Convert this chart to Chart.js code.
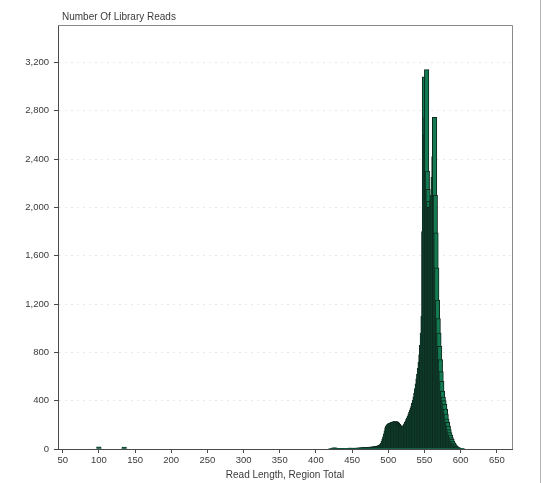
<!DOCTYPE html>
<html>
<head>
<meta charset="utf-8">
<title>Number Of Library Reads</title>
<script src="https://cdn.jsdelivr.net/npm/chart.js@4.4.0/dist/chart.umd.min.js"></script>
<style>
  html, body { margin: 0; padding: 0; background: #fff; }
  #wrap { position: relative; width: 545px; height: 483px; }
</style>
</head>
<body>
<div id="wrap"><canvas id="chart" width="545" height="483"></canvas></div>
<script>
// Read length (bp) of each histogram bin that has reads
const readLengths = [
  99, 100, 101, 134, 135, 136,
  420, 421, 422, 423, 424, 425, 426, 427, 428, 429,
  430, 431, 432, 433, 434, 435, 436, 437, 438, 439,
  440, 441, 442, 443, 444, 445, 446, 447, 448, 449,
  450, 451, 452, 453, 454, 455, 456, 457, 458, 459,
  460, 461, 462, 463, 464, 465, 466, 467, 468, 469,
  470, 471, 472, 473, 474, 475, 476, 477, 478, 479,
  480, 481, 482, 483, 484, 485, 486, 487, 488, 489,
  490, 491, 492, 493, 494, 495, 496, 497, 498, 499,
  500, 501, 502, 503, 504, 505, 506, 507, 508, 509,
  510, 511, 512, 513, 514, 515, 516, 517, 518, 519,
  520, 521, 522, 523, 524, 525, 526, 527, 528, 529,
  530, 531, 532, 533, 534, 535, 536, 537, 538, 539,
  540, 541, 542, 543, 544, 545, 546, 547, 548, 549,
  550, 551, 552, 553, 554, 555, 556, 557, 558, 559,
  560, 561, 562, 563, 564, 565, 566, 567, 568, 569,
  570, 571, 572, 573, 574, 575, 576, 577, 578, 579,
  580, 581, 582, 583, 584, 585, 586, 587, 588, 589,
  590, 591, 592, 593, 594, 595, 596, 597, 598, 599,
  600, 601, 602, 603
];

// Number of library reads per read length
const readCounts = [
  10, 18, 8, 8, 15, 6,
  3, 4, 5, 6, 8, 10, 9, 7, 5, 4,
  3, 3, 2, 2, 3, 3, 2, 2, 3, 3,
  3, 4, 4, 5, 5, 6, 6, 7, 7, 8,
  5, 5, 6, 6, 6, 7, 7, 7, 8, 8,
  8, 9, 9, 10, 10, 10, 11, 11, 12, 12,
  12, 13, 13, 14, 14, 15, 15, 16, 16, 17,
  17, 18, 19, 20, 21, 22, 24, 26, 28, 31,
  35, 40, 50, 65, 80, 100, 125, 150, 175, 190,
  200, 205, 210, 212, 215, 218, 220, 222, 225, 226,
  226, 224, 220, 212, 205, 198, 192, 188, 185, 184,
  184, 186, 190, 198, 208, 220, 232, 245, 258, 272,
  288, 305, 322, 340, 358, 380, 405, 430, 460, 500,
  540, 580, 620, 670, 720, 780, 860, 960, 1100, 1800,
  3080, 2600, 2750, 3140, 2300, 2150, 2050, 2000, 2000, 2000,
  2050, 2100, 2250, 2420, 2746, 2100, 1790, 1500, 1233, 1080,
  960, 850, 740, 640, 560, 480, 430, 400, 370, 330,
  290, 250, 220, 190, 160, 135, 115, 95, 80, 65,
  52, 42, 34, 27, 21, 16, 12, 9, 7, 5,
  4, 3, 2, 1
];

const xTickValues = [50, 100, 150, 200, 250, 300, 350, 400, 450, 500, 550, 600, 650];
const yTickValues = [0, 400, 800, 1200, 1600, 2000, 2400, 2800, 3200];

const textColor = '#3a3a3a';
const axisColor = '#4a4a4a';

// frame around the plot + chart title, drawn on top
const framePlugin = {
  id: 'frame',
  afterDraw(chart) {
    const { ctx, chartArea: a } = chart;
    ctx.save();
    ctx.strokeStyle = '#8a8a8a';
    ctx.lineWidth = 1;
    ctx.beginPath();
    ctx.moveTo(a.left, a.top + 0.5);
    ctx.lineTo(a.right + 0.5, a.top + 0.5);
    ctx.lineTo(a.right + 0.5, a.bottom);
    ctx.stroke();
    // panel edge on the right side
    ctx.strokeStyle = '#b5b5b5';
    ctx.beginPath();
    ctx.moveTo(540.5, 0);
    ctx.lineTo(540.5, 483);
    ctx.stroke();
    ctx.fillStyle = textColor;
    ctx.font = '10px "Liberation Sans", Arial, sans-serif';
    ctx.textBaseline = 'middle';
    ctx.textAlign = 'left';
    ctx.fillText('Number Of Library Reads', 62, 17);
    ctx.restore();
  }
};

const ctx = document.getElementById('chart').getContext('2d');

new Chart(ctx, {
  type: 'bar',
  data: {
    datasets: [
      {
        label: 'Number Of Library Reads',
        data: readLengths.map((len, i) => ({ x: len, y: readCounts[i] })),
        backgroundColor: '#137a52',
        borderColor: '#0e2a1f',
        borderWidth: 1,
        barThickness: 4.5,
      },
    ],
  },
  options: {
    responsive: false,
    devicePixelRatio: 1,
    animation: false,
    layout: {
      padding: { top: 25, right: 33, bottom: 0, left: 0 },
    },
    plugins: {
      legend: { display: false },
      tooltip: { enabled: false },
    },
    scales: {
      x: {
        type: 'linear',
        min: 43.5,
        max: 671,
        offset: false,
        afterBuildTicks: (s) => { s.ticks = xTickValues.map((v) => ({ value: v })); },
        afterFit: (s) => { s.height = 34; },
        grid: {
          display: true,
          offset: false,
          drawOnChartArea: false,
          tickLength: 4,
          tickColor: axisColor,
        },
        border: { color: axisColor, width: 1 },
        ticks: {
          color: textColor,
          font: { size: 9.5, family: '"Liberation Sans", Arial, sans-serif' },
          padding: 2,
          maxRotation: 0,
          autoSkip: false,
        },
        title: {
          display: true,
          text: 'Read Length, Region Total',
          color: textColor,
          font: { size: 10, family: '"Liberation Sans", Arial, sans-serif' },
          padding: { top: 0, bottom: 2 },
        },
      },
      y: {
        min: 0,
        max: 3510,
        afterBuildTicks: (s) => { s.ticks = yTickValues.map((v) => ({ value: v })); },
        afterFit: (s) => { s.width = 58; },
        grid: {
          color: 'rgba(0,0,0,0.09)',
          tickLength: 4,
          tickColor: axisColor,
          tickBorderDash: [],
        },
        border: { color: axisColor, width: 1, dash: [2, 4] },
        ticks: {
          color: textColor,
          font: { size: 9.5, family: '"Liberation Sans", Arial, sans-serif' },
          padding: 5,
          callback: (v) => v.toLocaleString('en-US'),
        },
      },
    },
  },
  plugins: [framePlugin],
});
</script>
</body>
</html>
